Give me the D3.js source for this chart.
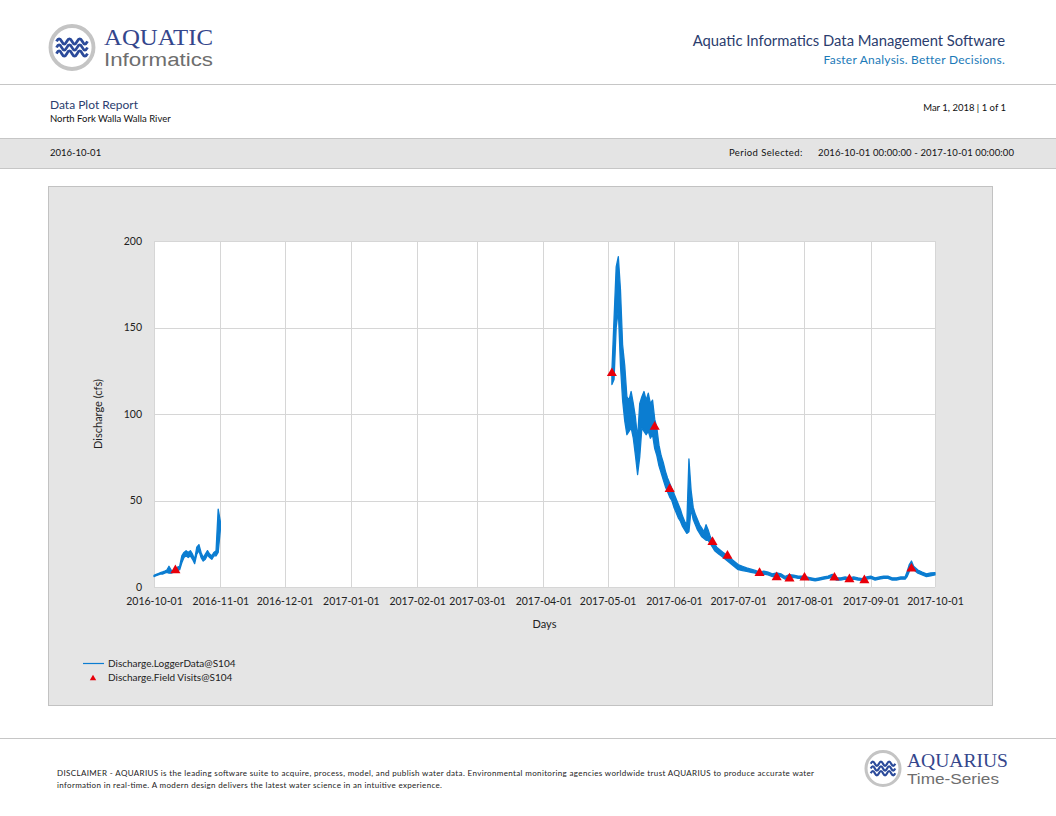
<!DOCTYPE html>
<html>
<head>
<meta charset="utf-8">
<script src="https://cdn.jsdelivr.net/npm/d3@7"></script>
<style>
  body { margin: 0; background: #fff; }
  svg { display: block; font-family: Lato, "Open Sans", sans-serif; }
</style>
</head>
<body>
<div class="report"></div>
<script>
"use strict";

// logger record, daily low / high envelope (cfs); null marks the data gap
const loggerDates = [
    "2016-10-01", "2016-10-02", "2016-10-03", "2016-10-04", "2016-10-05", "2016-10-06", "2016-10-07", "2016-10-08",
    "2016-10-09", "2016-10-10", "2016-10-11", "2016-10-12", "2016-10-13", "2016-10-14", "2016-10-15", "2016-10-16",
    "2016-10-17", "2016-10-18", "2016-10-19", "2016-10-20", "2016-10-21", "2016-10-22", "2016-10-23", "2016-10-24",
    "2016-10-25", "2016-10-26", "2016-10-27", "2016-10-28", "2016-10-29", "2016-10-30", "2016-10-31", "2016-11-01",
    "2016-11-02",
    "2017-05-03", "2017-05-04", "2017-05-05", "2017-05-06", "2017-05-07", "2017-05-08", "2017-05-09", "2017-05-10",
    "2017-05-11", "2017-05-12", "2017-05-13", "2017-05-14", "2017-05-15", "2017-05-16", "2017-05-17", "2017-05-18",
    "2017-05-19", "2017-05-20", "2017-05-21", "2017-05-22", "2017-05-23", "2017-05-24", "2017-05-25", "2017-05-26",
    "2017-05-27", "2017-05-28", "2017-05-29", "2017-05-30", "2017-05-31",
    "2017-06-01", "2017-06-02", "2017-06-03", "2017-06-04", "2017-06-05", "2017-06-06", "2017-06-07", "2017-06-08",
    "2017-06-09", "2017-06-10", "2017-06-11", "2017-06-12", "2017-06-13", "2017-06-14", "2017-06-15", "2017-06-16",
    "2017-06-17", "2017-06-18", "2017-06-19", "2017-06-20", "2017-06-21", "2017-06-22", "2017-06-23", "2017-06-24",
    "2017-06-25", "2017-06-26", "2017-06-27", "2017-06-28", "2017-06-29", "2017-06-30",
    "2017-07-01", "2017-07-03", "2017-07-05", "2017-07-07", "2017-07-09", "2017-07-11", "2017-07-13", "2017-07-15",
    "2017-07-17", "2017-07-19", "2017-07-21", "2017-07-23", "2017-07-25", "2017-07-27", "2017-07-29", "2017-07-31",
    "2017-08-02", "2017-08-04", "2017-08-06", "2017-08-08", "2017-08-10", "2017-08-12", "2017-08-14", "2017-08-16",
    "2017-08-18", "2017-08-20", "2017-08-22", "2017-08-24", "2017-08-26", "2017-08-28", "2017-08-30",
    "2017-09-01", "2017-09-03", "2017-09-05", "2017-09-07", "2017-09-09", "2017-09-11", "2017-09-13", "2017-09-15",
    "2017-09-17", "2017-09-18", "2017-09-19", "2017-09-20", "2017-09-21", "2017-09-23", "2017-09-25", "2017-09-27",
    "2017-09-29", "2017-10-01"
];
const loggerLow = [
    6, 6.5, 7, 7.5, 7.5, 8, 8.5, 8, 8, 8.5, 8.5, 9.5, 10, 14, 17, 18,
    17, 18, 16, 13.5, 19, 21, 17, 15, 16, 18.5, 17, 16, 18, 18, 20, 33,
    null,
    117, 120, 150, 160, 128, 108, 96, 88, 90, 92, 86, 76, 65, 75, 92, 90,
    88, 90, 86, 88, 80, 76, 70, 66, 62, 58, 55, 52, 50,
    46, 43, 40, 38, 35, 33, 31, 32, 45, 39, 36, 33, 31, 29, 28, 27,
    27, 25, 23, 21, 20, 19, 18, 17, 16, 15, 14, 13, 12, 11,
    10, 9.5, 9, 8.5, 8, 7, 7.5, 7, 6, 6.5, 6, 4.5, 5.5, 5.5, 5, 5,
    4.5, 4, 3.5, 4, 4.5, 5, 5.5, 4, 4, 4.5, 4, 4.5, 4, 3.8, 4.5,
    5, 4, 4.5, 5, 5, 4, 4, 4.5, 4.5, 6, 9, 11, 10, 8, 7, 6,
    6.5, 7
];
const loggerHigh = [
    6.8, 7.3, 7.8, 8.3, 8.7, 9.2, 9.8, 12, 9.8, 9.3, 9.8, 11.5, 12, 18, 20, 21,
    20, 21, 19, 16, 23, 24.5, 20, 17, 19, 21, 19, 18, 20, 21, 45, 38,
    null,
    125, 155, 185, 191, 172, 140, 128, 110, 108, 113, 106, 98, 86, 106, 110, 113,
    108, 112, 106, 108, 97, 92, 82, 76, 72, 67, 63, 60, 57,
    54, 51, 48, 45, 41, 38, 36, 74, 56, 46, 42, 39, 36, 34, 32, 36,
    33, 29, 27, 25, 23, 22, 21, 20, 19, 18, 17, 16, 15, 14,
    13, 12, 11, 10.3, 9.6, 8.6, 9.2, 8.6, 7.6, 8.2, 7.6, 6.1, 7.1, 6.8, 6.3, 6.3,
    5.8, 5.3, 4.8, 5.3, 5.8, 6.3, 7.3, 5.3, 5.3, 5.8, 5.3, 5.8, 5.3, 4.9, 5.8,
    6.3, 5.3, 5.8, 6.3, 6.3, 5.3, 5.3, 5.8, 5.8, 9, 13, 15, 12, 9.8, 8.6, 7.6,
    8.1, 8.3
];

// field visit measurements
const visitDates = [
    "2016-10-11", "2017-05-03", "2017-05-23", "2017-05-30", "2017-06-19", "2017-06-26", "2017-07-11",
    "2017-07-19", "2017-07-25", "2017-08-01", "2017-08-15", "2017-08-22", "2017-08-29", "2017-09-20"
];
const visitValues = [9, 123, 92, 56, 25.4, 17.5, 7.5, 5, 4.3, 4.8, 4.8, 3.8, 3.3, 10];

const yTicks = [0, 50, 100, 150, 200];
const xDomain = ["2016-10-01", "2017-10-01"];

const disclaimerLines = [
    "DISCLAIMER - AQUARIUS is the leading software suite to acquire, process, model, and publish water data. Environmental monitoring agencies worldwide trust AQUARIUS to produce accurate water",
    "information in real-time. A modern design delivers the latest water science in an intuitive experience."
];

window.onload = () => main();

function main() {
    const config = {
        width: 1056,
        height: 816,
        plot: { left: 154, right: 935, top: 241, bottom: 587 },
        lineColor: "#0b7dd1",
        visitColor: "#e8000b"
    };
    const svg = d3.select(".report")
        .append("svg")
        .attr("width", config.width)
        .attr("height", config.height);

    draw_header(svg, config);
    draw_chart(svg, config);
    draw_footer(svg, config);
}

function draw_logo(g, cx, cy, r) {
    g.append("circle")
        .attr("cx", cx).attr("cy", cy).attr("r", r)
        .attr("fill", "#fff")
        .attr("stroke", "#c4c4c4")
        .attr("stroke-width", r * 0.18);
    // three waves
    const w = r * 0.72;
    [-0.28, 0, 0.28].forEach(k => {
        const y = cy + k * r;
        const p = d3.path();
        p.moveTo(cx - w, y);
        for (let i = 0; i < 3; i++) {
            const x0 = cx - w + i * (2 * w / 3);
            p.bezierCurveTo(x0 + w / 9, y - r * 0.16, x0 + w / 4.5, y - r * 0.16, x0 + w / 3, y);
            p.bezierCurveTo(x0 + w / 2.25, y + r * 0.16, x0 + w / 1.8, y + r * 0.16, x0 + 2 * w / 3, y);
        }
        g.append("path")
            .attr("d", p.toString())
            .attr("fill", "none")
            .attr("stroke", "#2b4a9a")
            .attr("stroke-width", r * 0.13);
    });
}

function draw_header(svg, config) {
    const g = svg.append("g").attr("class", "header");
    draw_logo(g, 72, 47.5, 21.5);

    g.append("text")
        .attr("x", 104).attr("y", 45)
        .attr("font-family", "'Liberation Serif', serif")
        .attr("font-size", 23)
        .attr("fill", "#34468c")
        .attr("textLength", 109)
        .attr("lengthAdjust", "spacingAndGlyphs")
        .text("AQUATIC");
    g.append("text")
        .attr("x", 104).attr("y", 66)
        .attr("font-family", "'Liberation Sans', sans-serif")
        .attr("font-size", 18)
        .attr("fill", "#6e6e6e")
        .attr("textLength", 109)
        .attr("lengthAdjust", "spacingAndGlyphs")
        .text("Informatics");

    g.append("text")
        .attr("x", 1005).attr("y", 46)
        .attr("text-anchor", "end")
        .attr("font-size", 14.8)
        .attr("fill", "#2b3d6e")
        .text("Aquatic Informatics Data Management Software");
    g.append("text")
        .attr("x", 1005).attr("y", 64)
        .attr("text-anchor", "end")
        .attr("font-size", 12)
        .attr("letter-spacing", 0.25)
        .attr("fill", "#1b7ab8")
        .text("Faster Analysis. Better Decisions.");

    g.append("line")
        .attr("x1", 0).attr("x2", config.width)
        .attr("y1", 84.5).attr("y2", 84.5)
        .attr("stroke", "#c6c6c6");

    g.append("text")
        .attr("x", 50).attr("y", 109)
        .attr("font-size", 12)
        .attr("fill", "#2b3d6e")
        .text("Data Plot Report");
    g.append("text")
        .attr("x", 50).attr("y", 122)
        .attr("font-size", 9.5)
        .attr("fill", "#111")
        .text("North Fork Walla Walla River");
    g.append("text")
        .attr("x", 1006).attr("y", 111)
        .attr("text-anchor", "end")
        .attr("font-size", 9.5)
        .attr("fill", "#111")
        .text("Mar 1, 2018 | 1 of 1");

    g.append("rect")
        .attr("x", -1).attr("y", 138.5)
        .attr("width", config.width + 2).attr("height", 30)
        .attr("fill", "#e4e4e4")
        .attr("stroke", "#c6c6c6");
    g.append("text")
        .attr("x", 50).attr("y", 156)
        .attr("font-size", 9.5)
        .attr("fill", "#111")
        .text("2016-10-01");
    g.append("text")
        .attr("x", 729).attr("y", 156)
        .attr("font-size", 9.5)
        .attr("letter-spacing", 0.4)
        .attr("fill", "#111")
        .text("Period Selected:");
    g.append("text")
        .attr("x", 1014).attr("y", 156)
        .attr("text-anchor", "end")
        .attr("font-size", 9.5)
        .attr("textLength", 196)
        .attr("fill", "#111")
        .text("2016-10-01 00:00:00 - 2017-10-01 00:00:00");
}

function draw_chart(svg, config) {
    const parse = d3.utcParse("%Y-%m-%d");
    const p = config.plot;

    svg.append("rect")
        .attr("x", 48.5).attr("y", 186.5)
        .attr("width", 944).attr("height", 519)
        .attr("fill", "#e5e5e5")
        .attr("stroke", "#c2c2c2");

    const x = d3.scaleUtc()
        .domain(xDomain.map(parse))
        .range([p.left, p.right]);
    const y = d3.scaleLinear()
        .domain([0, 200])
        .range([p.bottom, p.top]);

    svg.append("rect")
        .attr("x", p.left).attr("y", p.top)
        .attr("width", p.right - p.left).attr("height", p.bottom - p.top)
        .attr("fill", "#fff");

    const grid = svg.append("g").attr("class", "grid");
    grid.selectAll("line.h")
        .data(yTicks)
        .join("line")
        .attr("class", "h")
        .attr("x1", p.left).attr("x2", p.right)
        .attr("y1", d => Math.round(y(d)) + 0.5).attr("y2", d => Math.round(y(d)) + 0.5)
        .attr("stroke", "#d6d6d6");
    const months = d3.utcMonth.range(x.domain()[0], d3.utcDay.offset(x.domain()[1], 1));
    grid.selectAll("line.v")
        .data(months)
        .join("line")
        .attr("class", "v")
        .attr("y1", p.top).attr("y2", p.bottom)
        .attr("x1", d => Math.round(x(d)) + 0.5).attr("x2", d => Math.round(x(d)) + 0.5)
        .attr("stroke", "#d6d6d6");

    // axes (labels only)
    const yAxis = svg.append("g")
        .attr("transform", `translate(${p.left - 12},0)`)
        .call(d3.axisLeft(y).tickValues(yTicks).tickSize(0).tickPadding(0));
    const xAxis = svg.append("g")
        .attr("transform", `translate(0,${p.bottom + 6})`)
        .call(d3.axisBottom(x).tickValues(months).tickFormat(d3.utcFormat("%Y-%m-%d")).tickSize(0).tickPadding(5));
    [yAxis, xAxis].forEach(a => {
        a.select(".domain").remove();
        a.selectAll("text")
            .attr("font-family", "Lato, sans-serif")
            .attr("font-size", 10.5)
            .attr("fill", "#222");
    });

    svg.append("text")
        .attr("transform", `translate(102,${(p.top + p.bottom) / 2}) rotate(-90)`)
        .attr("text-anchor", "middle")
        .attr("font-size", 11)
        .attr("fill", "#222")
        .text("Discharge (cfs)");
    svg.append("text")
        .attr("x", (p.left + p.right) / 2).attr("y", 628)
        .attr("text-anchor", "middle")
        .attr("font-size", 11)
        .attr("fill", "#222")
        .text("Days");

    // logger series as a low-high band
    const rows = loggerDates.map((d, i) => ({ date: parse(d), lo: loggerLow[i], hi: loggerHigh[i] }));
    const area = d3.area()
        .defined(d => d.lo != null)
        .x(d => x(d.date))
        .y0(d => y(d.lo))
        .y1(d => y(d.hi));
    svg.append("path")
        .datum(rows)
        .attr("d", area)
        .attr("fill", config.lineColor)
        .attr("stroke", config.lineColor)
        .attr("stroke-width", 1.3)
        .attr("stroke-linejoin", "round");

    const visits = visitDates.map((d, i) => ({ date: parse(d), value: visitValues[i] }));
    svg.append("g")
        .selectAll("path")
        .data(visits)
        .join("path")
        .attr("d", d3.symbol(d3.symbolTriangle, 44))
        .attr("transform", d => `translate(${x(d.date)},${y(d.value) - 1})`)
        .attr("fill", config.visitColor);

    // legend
    const legend = svg.append("g").attr("class", "legend");
    legend.append("line")
        .attr("x1", 83).attr("x2", 104)
        .attr("y1", 663.5).attr("y2", 663.5)
        .attr("stroke", config.lineColor)
        .attr("stroke-width", 1.2);
    legend.append("text")
        .attr("x", 108).attr("y", 667)
        .attr("font-size", 10)
        .attr("fill", "#222")
        .text("Discharge.LoggerData@S104");
    legend.append("path")
        .attr("d", d3.symbol(d3.symbolTriangle, 18))
        .attr("transform", "translate(93,678.5)")
        .attr("fill", config.visitColor);
    legend.append("text")
        .attr("x", 108).attr("y", 681)
        .attr("font-size", 10)
        .attr("fill", "#222")
        .text("Discharge.Field Visits@S104");
}

function draw_footer(svg, config) {
    const g = svg.append("g").attr("class", "footer");
    g.append("line")
        .attr("x1", 0).attr("x2", config.width)
        .attr("y1", 738.5).attr("y2", 738.5)
        .attr("stroke", "#c6c6c6");
    const lineLengths = [757, 385];
    g.selectAll("text.disclaimer")
        .data(disclaimerLines)
        .join("text")
        .attr("class", "disclaimer")
        .attr("x", 57)
        .attr("y", (d, i) => 776 + i * 12)
        .attr("font-size", 8)
        .attr("textLength", (d, i) => lineLengths[i])
        .attr("fill", "#222")
        .text(d => d);

    draw_logo(g, 883, 768.5, 17);
    g.append("text")
        .attr("x", 907).attr("y", 767)
        .attr("font-family", "'Liberation Serif', serif")
        .attr("font-size", 18)
        .attr("fill", "#34468c")
        .attr("textLength", 101)
        .attr("lengthAdjust", "spacingAndGlyphs")
        .text("AQUARIUS");
    g.append("text")
        .attr("x", 907).attr("y", 784)
        .attr("font-family", "'Liberation Sans', sans-serif")
        .attr("font-size", 14)
        .attr("fill", "#6e6e6e")
        .attr("textLength", 92)
        .attr("lengthAdjust", "spacingAndGlyphs")
        .text("Time-Series");
}
</script>
</body>
</html>
